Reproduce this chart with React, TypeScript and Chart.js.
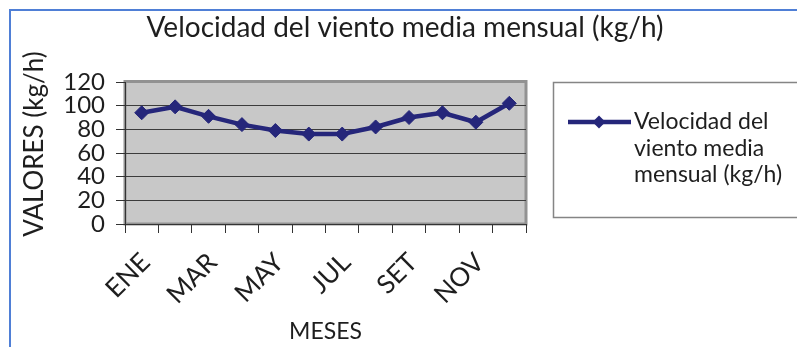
import React, { useEffect, useRef } from 'react';
import { Chart, registerables } from 'chart.js';

Chart.register(...registerables);

const categories = ['ENE', 'FEB', 'MAR', 'ABR', 'MAY', 'JUN', 'JUL', 'AGO', 'SET', 'OCT', 'NOV', 'DIC'];
const windSpeed = [94, 99, 91, 84, 79, 76, 76, 82, 90, 94, 86, 102];
const yTickValues = [0, 20, 40, 60, 80, 100, 120];
const seriesName = 'Velocidad del viento media mensual (kg/h)';
const legendLines = ['Velocidad del', 'viento media', 'mensual (kg/h)'];
const chartTitle = 'Velocidad del viento media mensual (kg/h)';
const yTitle = 'VALORES (kg/h)';
const xTitle = 'MESES';

const FONT = 'Lato, "Open Sans", sans-serif';
const TEXT = '#1e1e1e';
const NAVY = '#25267a';

const decor = {
  id: 'decor',
  beforeDraw(chart: any) {
    const { ctx, chartArea: a, width, height } = chart;
    ctx.save();
    ctx.fillStyle = '#ffffff';
    ctx.fillRect(0, 0, width, height);
    // blue outer frame
    ctx.fillStyle = '#4f7fd6';
    ctx.fillRect(9, 9, width - 9, 2);
    ctx.fillRect(9, 9, 2, height - 9);
    // plot background
    ctx.fillStyle = '#c8c8c8';
    ctx.fillRect(a.left, a.top, a.right - a.left, a.bottom - a.top);
    ctx.strokeStyle = '#929292';
    ctx.lineWidth = 3;
    ctx.strokeRect(a.left, a.top - 0.5, a.right - a.left, a.bottom - a.top + 0.5);
    ctx.restore();
  },
  afterDraw(chart: any) {
    const { ctx } = chart;
    ctx.save();
    ctx.fillStyle = TEXT;
    // title
    ctx.font = `28px ${FONT}`;
    ctx.textAlign = 'center';
    ctx.textBaseline = 'middle';
    ctx.fillText(chartTitle, 405, 28);
    // y title
    ctx.save();
    ctx.font = `26px ${FONT}`;
    ctx.translate(35, 144);
    ctx.rotate(-Math.PI / 2);
    ctx.fillText(yTitle, 0, 0);
    ctx.restore();
    // legend
    const ds = chart.data.datasets[0];
    ctx.strokeStyle = '#858585';
    ctx.lineWidth = 1.5;
    ctx.strokeRect(553.5, 82.5, 270, 135);
    ctx.strokeStyle = ds.borderColor;
    ctx.lineWidth = 4.5;
    ctx.beginPath();
    ctx.moveTo(568, 122);
    ctx.lineTo(631, 122);
    ctx.stroke();
    ctx.fillStyle = ds.pointBackgroundColor;
    ctx.beginPath();
    ctx.moveTo(599, 115.5);
    ctx.lineTo(605.5, 122);
    ctx.lineTo(599, 128.5);
    ctx.lineTo(592.5, 122);
    ctx.closePath();
    ctx.fill();
    ctx.fillStyle = TEXT;
    ctx.font = `23px ${FONT}`;
    ctx.textAlign = 'left';
    legendLines.forEach((line, i) => ctx.fillText(line, 634, 122 + i * 26.5));
    ctx.restore();
  },
};

export default function App() {
  const ref = useRef<HTMLCanvasElement>(null);
  useEffect(() => {
    if (!ref.current) return;
    const chart = new Chart(ref.current, {
      type: 'line',
      data: {
        labels: categories,
        datasets: [
          {
            label: seriesName,
            data: windSpeed,
            borderColor: NAVY,
            backgroundColor: NAVY,
            pointBackgroundColor: NAVY,
            pointBorderColor: NAVY,
            borderWidth: 4.5,
            pointStyle: 'rectRot',
            pointRadius: 7,
            pointBorderWidth: 1,
            tension: 0,
          },
        ],
      },
      options: {
        animation: false,
        responsive: false,
        maintainAspectRatio: false,
        layout: { padding: { top: 82, right: 271, left: 0, bottom: 0 } },
        plugins: {
          legend: { display: false },
          title: { display: false },
          tooltip: { enabled: false },
        },
        scales: {
          x: {
            type: 'category',
            offset: true,
            grid: {
              offset: true,
              drawOnChartArea: false,
              drawTicks: true,
              tickLength: 9,
              tickColor: '#333',
            },
            border: { display: true, color: '#333', width: 1 },
            ticks: {
              autoSkip: false,
              maxRotation: 45,
              minRotation: 45,
              padding: 14,
              labelOffset: 4,
              color: TEXT,
              font: { family: FONT, size: 26 },
              callback: (_v: any, i: number) => (i % 2 === 0 ? categories[i] : ''),
            },
            title: {
              display: true,
              text: xTitle,
              color: TEXT,
              font: { family: FONT, size: 23 },
              padding: { top: 0, bottom: 2 },
            },
            afterFit: (s: any) => {
              s.height = 123;
            },
          },
          y: {
            min: 0,
            max: 120,
            afterBuildTicks: (s: any) => {
              s.ticks = yTickValues.map((v) => ({ value: v }));
            },
            grid: {
              color: (c: any) => (c.tick && c.tick.value === 120 ? 'rgba(0,0,0,0)' : '#3c3c3c'),
              tickColor: '#333',
              tickLength: 9,
              lineWidth: 1,
            },
            border: { display: true, color: '#333', width: 1 },
            ticks: {
              autoSkip: false,
              padding: 11,
              color: TEXT,
              font: { family: FONT, size: 24 },
            },
            afterFit: (s: any) => {
              s.width = 125;
            },
          },
        },
      },
      plugins: [decor],
    });
    return () => chart.destroy();
  }, []);
  return (
    <div style={{ position: 'absolute', left: 0, top: 0, width: 797, height: 347 }}>
      <canvas ref={ref} width={797} height={347} style={{ width: 797, height: 347, display: 'block' }} />
    </div>
  );
}
